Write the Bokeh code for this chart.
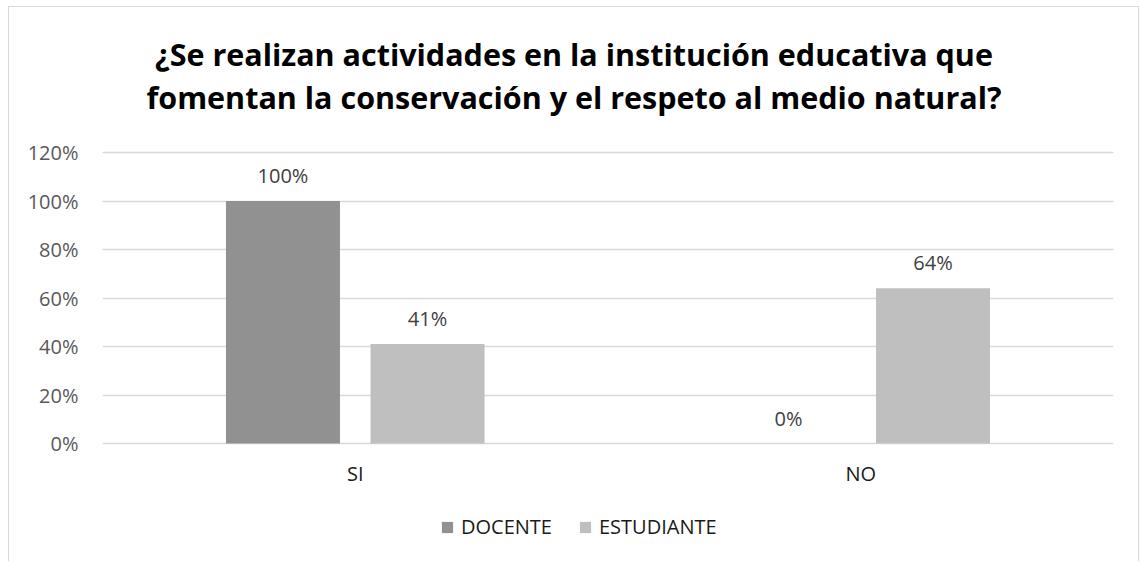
from bokeh.plotting import figure
from bokeh.models import (ColumnDataSource, FactorRange, FixedTicker, Label,
                          LabelSet, Legend, LegendItem)
from bokeh.core.properties import value
from bokeh.transform import dodge
from bokeh.embed import file_html
from bokeh.resources import INLINE

# ---- data ----
title_lines = ["¿Se realizan actividades en la institución educativa que",
               "fomentan la conservación y el respeto al medio natural?"]
categories = ["SI", "NO"]
series_names = ["DOCENTE", "ESTUDIANTE"]
docente = [100, 0]
estudiante = [41, 64]
y_ticks = [0, 20, 40, 60, 80, 100, 120]
y_tick_labels = ["0%", "20%", "40%", "60%", "80%", "100%", "120%"]

# ---- style / layout ----
FONT = "Open Sans"
C_DOC = "#919191"
C_EST = "#bfbfbf"
GRID = "#d9d9d9"
TXT = "#595959"

W, H = 1131, 555                 # content size (plus 1px css border)
FL, FR = 93, 1104                # frame left/right in content pixels
Y0_PX, Y120_PX = 436, 145        # pixel rows of 0% and 120%
ppu = (Y0_PX - Y120_PX) / 120.0
y_top = 120 + Y120_PX / ppu
y_bot = -(H - Y0_PX) / ppu

src = ColumnDataSource(dict(
    cat=categories,
    doc=docente,
    est=estudiante,
    zero=[0] * len(categories),
    doc_lbl=[f"{v}%" for v in docente],
    est_lbl=[f"{v}%" for v in estudiante],
))

p = figure(width=W, height=H, x_range=FactorRange(*categories, range_padding=0),
           y_range=(y_bot, y_top), output_backend="svg", toolbar_location=None,
           x_axis_location=None,
           min_border_left=FL, min_border_right=W - FR,
           min_border_top=0, min_border_bottom=0)
p.styles = {"border-left": "1px solid #d9d9d9", "border-top": "1px solid #d9d9d9",
            "border-right": "1px solid #d9d9d9",
            "margin-left": "8px", "margin-top": "6px"}
p.outline_line_color = None
p.background_fill_color = "white"
p.border_fill_color = "white"

off = 0.1430
bw = 0.2255
r1 = p.vbar(x=dodge("cat", -off, range=p.x_range), top="doc", width=bw,
            source=src, fill_color=C_DOC, line_color=None)
r2 = p.vbar(x=dodge("cat", off, range=p.x_range), top="est", width=bw,
            source=src, fill_color=C_EST, line_color=None)

for col, lbl, o in (("doc", "doc_lbl", -off), ("est", "est_lbl", off)):
    p.add_layout(LabelSet(x=dodge("cat", o, range=p.x_range), y=col, text=lbl,
                          source=src, y_offset=18, text_align="center",
                          text_baseline="alphabetic", text_font=value(FONT),
                          text_font_size="20px", text_color="#404040"))

# category labels (x axis)
p.add_layout(LabelSet(x="cat", y="zero", text="cat", source=src, y_offset=-37,
                      text_align="center", text_baseline="alphabetic",
                      text_font=value(FONT), text_font_size="20px",
                      text_color="#1a1a1a"))

# y axis + grid
p.xgrid.grid_line_color = None
p.ygrid.grid_line_color = GRID
p.ygrid.grid_line_width = 1.3
p.yaxis.ticker = FixedTicker(ticks=y_ticks)
p.yaxis.major_label_overrides = dict(zip(y_ticks, y_tick_labels))
ax = p.yaxis[0]
ax.axis_line_color = None
ax.major_tick_line_color = None
ax.minor_tick_line_color = None
ax.major_tick_out = 0
ax.major_tick_in = 0
ax.major_label_text_font = FONT
ax.major_label_standoff = 24
ax.major_label_text_font_size = "20px"
ax.major_label_text_color = TXT

# title
title_x_off = -34
for line, yoff in zip(title_lines, (99, 56)):
    p.add_layout(Label(x=1.0, y=120, x_offset=title_x_off, y_offset=yoff, text=line,
                       text_align="center", text_baseline="alphabetic",
                       text_font=FONT, text_font_style="bold", text_font_size="30.5px",
                       text_color="#000000"))

legend = Legend(items=[LegendItem(label=series_names[0], renderers=[r1]),
                       LegendItem(label=series_names[1], renderers=[r2])],
                orientation="horizontal", location=(338, 22),
                glyph_width=14, glyph_height=14, label_standoff=7, spacing=26,
                label_text_font=FONT, label_text_font_size="20px",
                label_text_color="#1a1a1a", border_line_color=None,
                background_fill_alpha=0, padding=0, margin=0)
p.add_layout(legend, "center")

open("out.html", "w").write(file_html(p, INLINE))
